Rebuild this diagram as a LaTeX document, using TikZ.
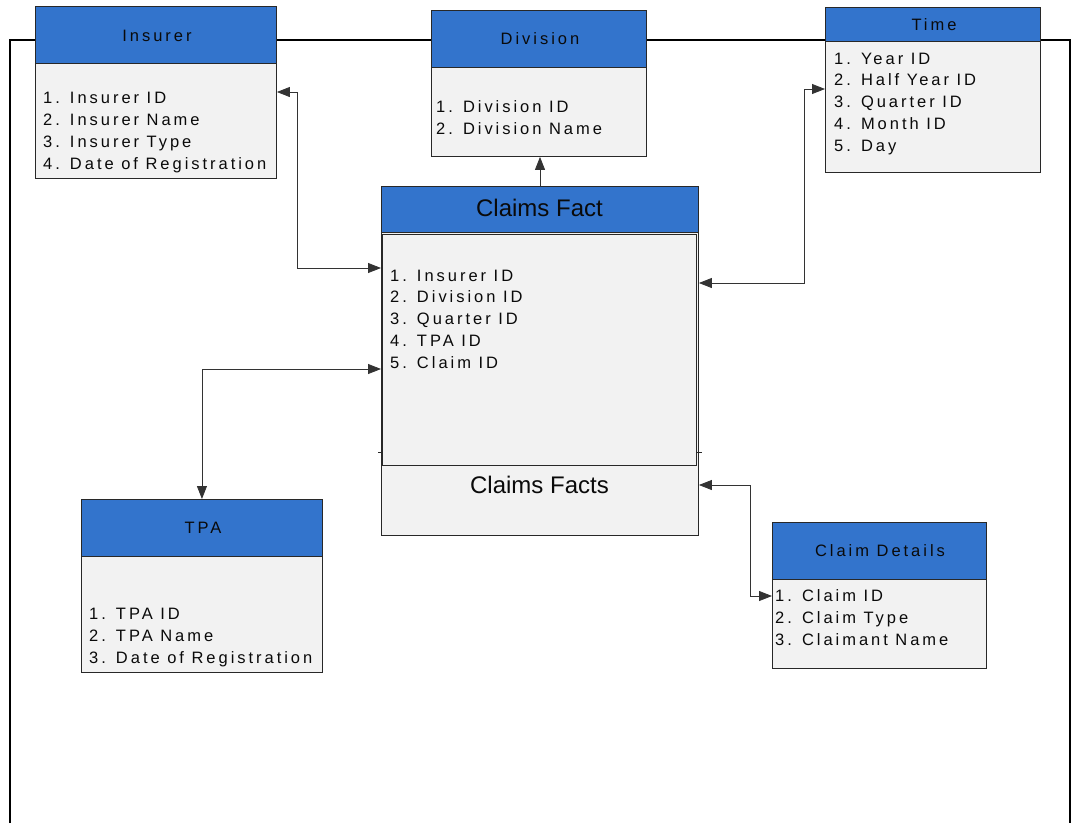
\documentclass[tikz,border=0pt]{standalone}
\usepackage{fontspec}
\setmainfont{Liberation Sans}
\newfontfamily\trackfont{Liberation Sans}[LetterSpace=18]
\usetikzlibrary{arrows.meta}
\definecolor{hdrblue}{RGB}{51,116,204}
\definecolor{bodygray}{RGB}{242,242,242}
\definecolor{edgegray}{RGB}{40,40,40}
\definecolor{inkgray}{RGB}{10,10,10}
\begin{document}
\begin{tikzpicture}[x=1pt,y=-1pt,
  hdr/.style={draw=edgegray, fill=hdrblue, line width=0.9pt, inner sep=0pt, anchor=north west},
  tbody/.style={draw=edgegray, fill=bodygray, line width=0.9pt, inner sep=0pt, anchor=north west},
  ttl/.style={anchor=base, inner sep=0pt, text=inkgray, font=\trackfont\fontsize{16.5}{20}\selectfont},
  bigttl/.style={anchor=base, inner sep=0pt, text=inkgray, font=\fontsize{24}{28}\selectfont},
  item/.style={anchor=base west, inner sep=0pt, text=inkgray, font=\trackfont\fontsize{16.5}{20}\selectfont},
  tip/.tip={Triangle[length=13pt,width=10pt]},
  conn/.style={draw=black!80, line width=0.8pt, tip-tip},
  oneway/.style={draw=black!80, line width=0.8pt, -tip},
  outer/.style={draw=black, line width=2pt}]
\useasboundingbox (0,0) rectangle (1074,823);

% surrounding frame, open at the bottom
\draw[outer] (10,823) |- (1070,40) -- (1070,823);

% Insurer dimension
\node[tbody, minimum width=241, minimum height=172] (insB) at (35,6) {};
\node[hdr, minimum width=241, minimum height=57] (insH) at (35,6) {};
\node[ttl] (insT) at (157,41) {Insurer};
\foreach \t [count=\i] in {1. Insurer ID, 2. Insurer Name, 3. Insurer Type, 4. Date of Registration}
  \node[item] (ins-\i) at (43,{103+22*(\i-1)}) {\t};

% Division dimension
\node[tbody, minimum width=215, minimum height=146] (divB) at (431,10) {};
\node[hdr, minimum width=215, minimum height=57] (divH) at (431,10) {};
\node[ttl] (divT) at (540,44) {Division};
\foreach \t [count=\i] in {1. Division ID, 2. Division Name}
  \node[item] (div-\i) at (436,{112+22*(\i-1)}) {\t};

% Time dimension
\node[tbody, minimum width=215, minimum height=165] (timeB) at (825,7) {};
\node[hdr, minimum width=215, minimum height=34] (timeH) at (825,7) {};
\node[ttl] (timeT) at (934,30) {Time};
\foreach \t [count=\i] in {1. Year ID, 2. Half Year ID, 3. Quarter ID, 4. Month ID, 5. Day}
  \node[item] (time-\i) at (834,{64+21.75*(\i-1)}) {\t};

% Claims fact table
\node[tbody, minimum width=317, minimum height=349] (cfO) at (381,186) {};
\node[hdr, minimum width=317, minimum height=46] (cfH) at (381,186) {};
\node[bigttl] (cfT) at (539.5,216) {Claims Fact};
\draw[edgegray, line width=0.8pt] (378,452) -- (702,452);
\node[tbody, minimum width=314, minimum height=231] (cfI) at (382,234) {};
\foreach \t [count=\i] in {1. Insurer ID, 2. Division ID, 3. Quarter ID, 4. TPA ID, 5. Claim ID}
  \node[item] (cf-\i) at (390,{281+21.75*(\i-1)}) {\t};
\node[bigttl] (cfS) at (539.5,493) {Claims Facts};

% TPA dimension
\node[tbody, minimum width=241, minimum height=173] (tpaB) at (81,499) {};
\node[hdr, minimum width=241, minimum height=57] (tpaH) at (81,499) {};
\node[ttl] (tpaT) at (203,533) {TPA};
\foreach \t [count=\i] in {1. TPA ID, 2. TPA Name, 3. Date of Registration}
  \node[item] (tpa-\i) at (89,{619+22*(\i-1)}) {\t};

% Claim details dimension
\node[tbody, minimum width=214, minimum height=146] (cdB) at (772,522) {};
\node[hdr, minimum width=214, minimum height=57] (cdH) at (772,522) {};
\node[ttl] (cdT) at (880,556) {Claim Details};
\foreach \t [count=\i] in {1. Claim ID, 2. Claim Type, 3. Claimant Name}
  \node[item] (cd-\i) at (775,{601+22*(\i-1)}) {\t};

% relationships
\draw[conn] (insB.east |- 0,92) -| (297,268) -- (cfO.west |- 0,268);
\draw[oneway] (cfO.north -| 540,0) -- (divB.south -| 540,0);
\draw[conn] (cfO.east |- 0,283) -| (804,89) -- (timeB.west |- 0,89);
\draw[conn] (cfO.west |- 0,369) -| (tpaH.north);
\draw[conn] (cfO.east |- 0,485) -| (750,596) -- (cdB.west |- 0,596);
\end{tikzpicture}
\end{document}
